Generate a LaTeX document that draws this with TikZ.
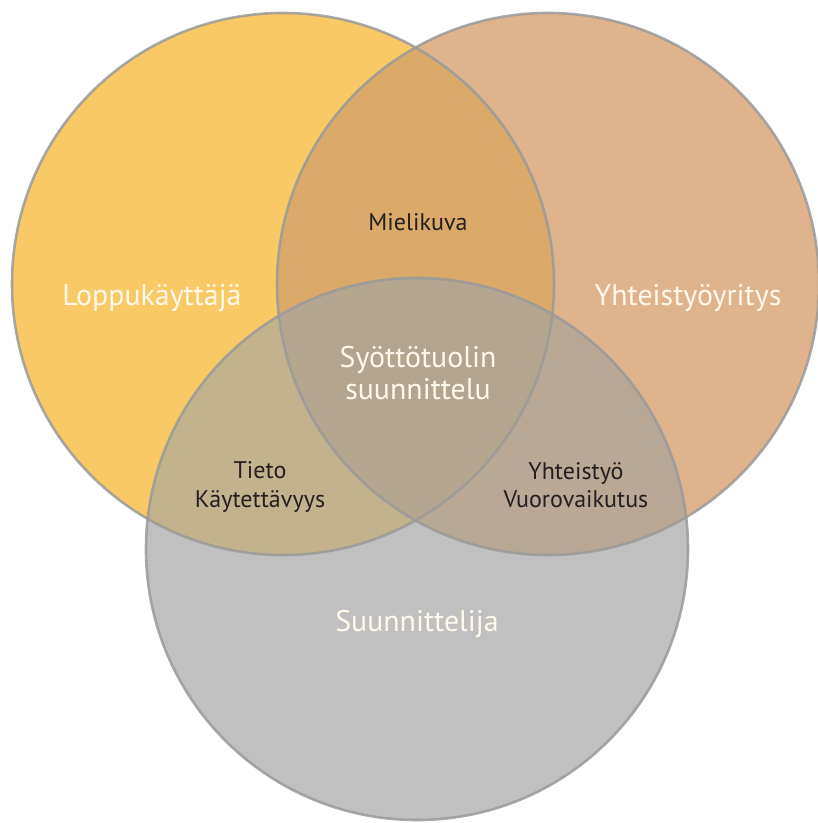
\documentclass[tikz,border=0pt]{standalone}
\usepackage{fontspec}
\setmainfont{PT Sans}
\usepackage{tikz}
\usepackage{xcolor}

\definecolor{yellowfill}{HTML}{F9C966}
\definecolor{tanfill}{HTML}{DFB48D}
\definecolor{grayfill}{HTML}{C0C0C0}
\definecolor{yellowtan}{HTML}{DBA96A}
\definecolor{yellowgray}{HTML}{C3B38C}
\definecolor{tangray}{HTML}{B8A895}
\definecolor{allthree}{HTML}{B3A58E}
\definecolor{ringgray}{HTML}{9A9A9A}
\definecolor{labelwhite}{HTML}{FFF9EC}
\definecolor{labeldark}{HTML}{231F20}

\begin{document}
\begin{tikzpicture}[
    x=0.03cm, y=-0.03cm,
    ring/.style={draw=ringgray, line width=2.2pt, draw opacity=0.85},
    biglabel/.style={text=labelwhite, font=\fontsize{25.5}{27.5}\selectfont, align=center},
    smalllabel/.style={text=labeldark, font=\fontsize{20.5}{24}\selectfont, align=center}
]
\def\rad{8.13cm}

\fill[white] (0,0) rectangle (817,823);
\useasboundingbox (0,0) rectangle (817,823);

% Circle centres
\coordinate (enduser) at (283,284);
\coordinate (partner) at (548,284);
\coordinate (designer) at (417,549);

% Fills
\fill[yellowfill] (enduser) circle[radius=\rad];
\fill[tanfill] (partner) circle[radius=\rad];
\fill[grayfill] (designer) circle[radius=\rad];

% Overlaps
\begin{scope}
\clip (enduser) circle[radius=\rad];
\fill[yellowtan] (partner) circle[radius=\rad];
\fill[yellowgray] (designer) circle[radius=\rad];
\end{scope}
\begin{scope}
\clip (partner) circle[radius=\rad];
\fill[tangray] (designer) circle[radius=\rad];
\end{scope}
\begin{scope}
\clip (enduser) circle[radius=\rad];
\clip (partner) circle[radius=\rad];
\fill[allthree] (designer) circle[radius=\rad];
\end{scope}

% Outlines
\draw[ring] (enduser) circle[radius=\rad];
\draw[ring] (partner) circle[radius=\rad];
\draw[ring] (designer) circle[radius=\rad];

% Labels
\node[biglabel] (enduserlabel) at (152,298) {Loppukäyttäjä};
\node[biglabel] (partnerlabel) at (688,298) {Yhteistyöyritys};
\node[biglabel] (designerlabel) at (417,624) {Suunnittelija};
\node[biglabel] (centrelabel) at (418,373) {Syöttötuolin\\suunnittelu};

\node[smalllabel] (imagelabel) at (418,222) {Mielikuva};
\node[smalllabel] (infolabel) at (260,487) {Tieto\\Käytettävyys};
\node[smalllabel] (worklabel) at (576,485) {Yhteistyö\\Vuorovaikutus};

\end{tikzpicture}
\end{document}
